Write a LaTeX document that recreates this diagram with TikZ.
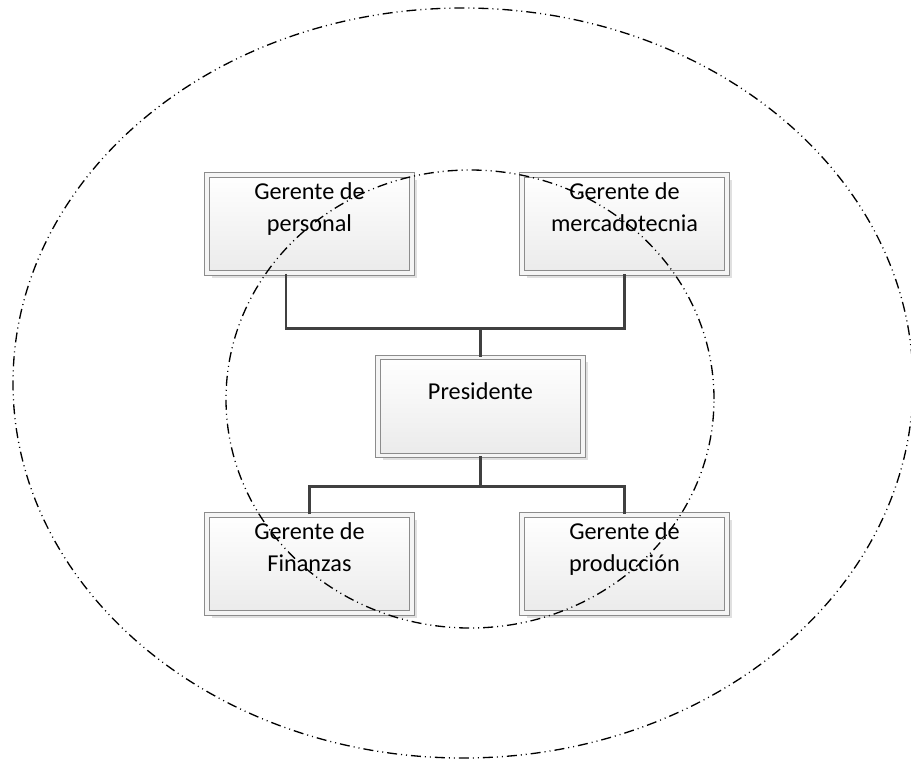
\documentclass[tikz,border=0pt]{standalone}
\usepackage{fontspec}
\setmainfont{Carlito}
\usetikzlibrary{positioning,shadows}
\definecolor{Linea}{HTML}{404040}
\definecolor{Borde}{HTML}{8C8C8C}

\begin{document}
\begin{tikzpicture}[
  font=\fontsize{13.8}{18.2}\selectfont,
  cargo/.style={rectangle,draw=Borde,line width=0.6pt,
                double=white!96!black,double distance=0.07cm,
                minimum width=4.1cm,minimum height=1.96cm,inner sep=0pt,
                top color=white,bottom color=black!8,
                drop shadow={shadow xshift=0.09cm,shadow yshift=-0.09cm,
                             fill=black!12,opacity=1}},
  rotulo/.style={align=center,inner sep=0pt},
  enlace/.style={draw=Linea,line width=1.7pt},
  orbita/.style={draw=black,line width=0.75pt,
                 dash pattern=on 0.2cm off 0.08cm on 0.02cm off 0.08cm on 0.02cm off 0.08cm},
]
\useasboundingbox (0,0) rectangle (18.22,-15.2);

% cajas
\node[cargo] (pers) at (6.19,-4.48) {};
\node[cargo] (merc) at (12.49,-4.48) {};
\node[cargo] (pres) at (9.61,-8.13) {};
\node[cargo] (fin) at (6.19,-11.28) {};
\node[cargo] (prod) at (12.49,-11.28) {};

\node[rotulo] (persT) at ([yshift=0.29cm]pers.center) {Gerente de\\personal};
\node[rotulo] (mercT) at ([yshift=0.33cm]merc.center) {Gerente de\\mercadotecnia};
\node[rotulo] (presT) at ([yshift=0.31cm]pres.center) {Presidente};
\node[rotulo] (finT) at ([yshift=0.33cm]fin.center) {Gerente de\\Finanzas};
\node[rotulo] (prodT) at ([yshift=0.29cm]prod.center) {Gerente de\\producci\'on};

% conectores
\coordinate (barraA) at (9.61,-6.56);
\coordinate (barraB) at (9.61,-9.72);
\draw[enlace] ([xshift=-0.47cm]pers.south) |- (barraA) -| (merc.south);
\draw[enlace] (barraA) -- (pres.north);
\draw[enlace] (pres.south) -- (barraB);
\draw[enlace] (fin.north) |- (barraB) -| (prod.north);

% contornos
\draw[orbita] (9.26,-7.66) ellipse [x radius=9.0cm,y radius=7.5cm];
\draw[orbita] (9.4,-7.98) ellipse [x radius=4.88cm,y radius=4.58cm];
\end{tikzpicture}
\end{document}
